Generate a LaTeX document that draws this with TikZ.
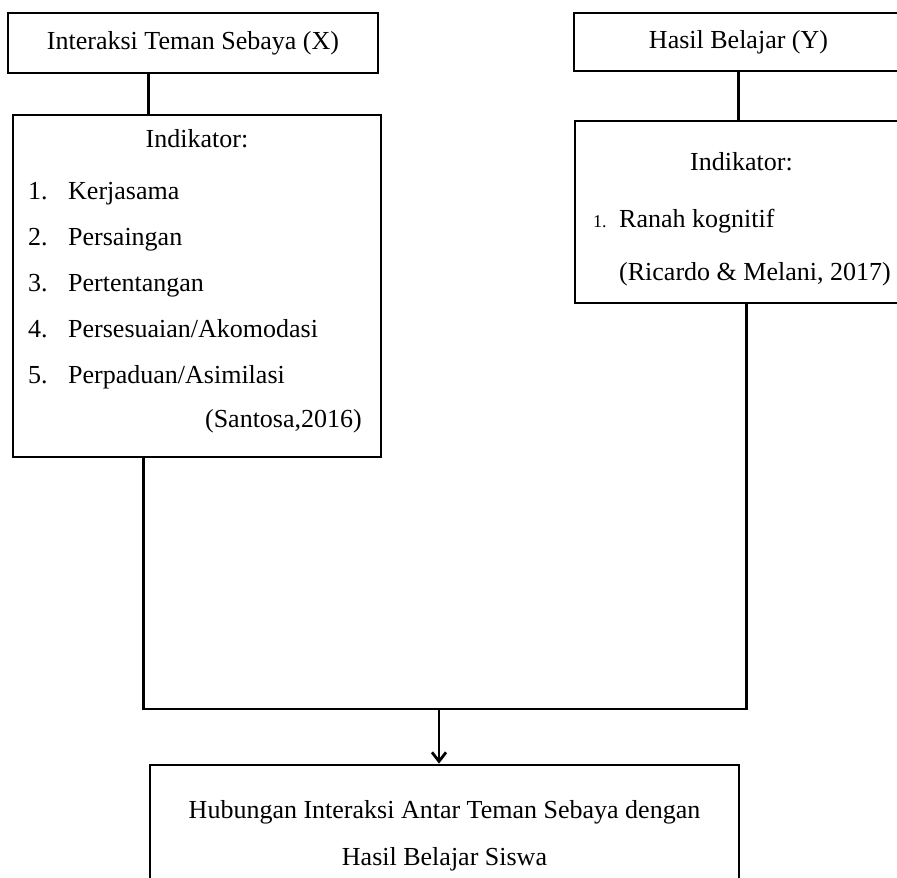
\documentclass[tikz,border=0pt]{standalone}
\usepackage{fontspec}
\setmainfont{Liberation Serif}
\usetikzlibrary{arrows}
\usetikzlibrary{arrows.meta}

\begin{document}
\begin{tikzpicture}[x=1pt,y=-1pt]
				\tikzstyle{kotak}=[rectangle,draw,line width=2.8pt,inner sep=0pt]
				\tikzstyle{teks}=[inner sep=0pt,font=\fontsize{26}{30}\selectfont]
				\tikzstyle{garis}=[line width=2.8pt]
				\useasboundingbox (0,0) rectangle (897,878);
				\clip (0,0) rectangle (897,878);
				% kotak judul
				\node[kotak,teks,minimum width=370pt,minimum height=60pt] (judulx) at (193,43) {Interaksi Teman Sebaya (X)};
				\node[kotak,teks,minimum width=329pt,minimum height=58pt] (juduly) at (738.5,42) {Hasil Belajar (Y)};
				% kotak indikator
				\node[kotak,minimum width=368pt,minimum height=342pt] (indx) at (197,286) {};
				\node[kotak,minimum width=328pt,minimum height=182pt] (indy) at (739,212) {};
				% kotak hubungan
				\node[kotak,minimum width=589pt,minimum height=140pt] (hub) at (444.5,835) {};
				% isi indikator X
				\node[teks,anchor=base] (judulindx) at (197,147) {Indikator:};
				\node[teks,anchor=base west] (no1) at (28,199) {1.};
				\node[teks,anchor=base west] (kx1) at (68,199) {Kerjasama};
				\node[teks,anchor=base west] (no2) at (28,245) {2.};
				\node[teks,anchor=base west] (kx2) at (68,245) {Persaingan};
				\node[teks,anchor=base west] (no3) at (28,291) {3.};
				\node[teks,anchor=base west] (kx3) at (68,291) {Pertentangan};
				\node[teks,anchor=base west] (no4) at (28,337) {4.};
				\node[teks,anchor=base west] (kx4) at (68,337) {Persesuaian/Akomodasi};
				\node[teks,anchor=base west] (no5) at (28,383) {5.};
				\node[teks,anchor=base west] (kx5) at (68,383) {Perpaduan/Asimilasi};
				\node[teks,anchor=base east] (sumberx) at (362,427) {(Santosa,2016)};
				% isi indikator Y
				\node[teks,anchor=base] (judulindy) at (741.5,170) {Indikator:};
				\node[teks,anchor=base west,font=\fontsize{18}{22}\selectfont] (noy1) at (593,227) {1.};
				\node[teks,anchor=base west] (ky1) at (619,227) {Ranah kognitif};
				\node[teks,anchor=base west] (sumbery) at (619,280) {(Ricardo \& Melani, 2017)};
				% isi hubungan
				\node[teks,anchor=base] (hub1) at (444.5,818) {Hubungan Interaksi Antar Teman Sebaya dengan};
				\node[teks,anchor=base] (hub2) at (444.5,865) {Hasil Belajar Siswa};
				% penghubung
				\coordinate (gabung) at (439,709);
				\draw[garis] ([xshift=142pt]judulx.south west) -- ([xshift=137pt]indx.north west);
				\draw[garis] (juduly.south) -- (juduly.south |- indy.north);
				\draw[garis] ([xshift=132pt]indx.south west) |- (gabung) -| ([xshift=173pt]indy.south west);
				\draw[garis,-{Straight Barb[length=9pt,width=14pt]}] (gabung) -- (gabung |- hub.north);
\end{tikzpicture}
\end{document}
